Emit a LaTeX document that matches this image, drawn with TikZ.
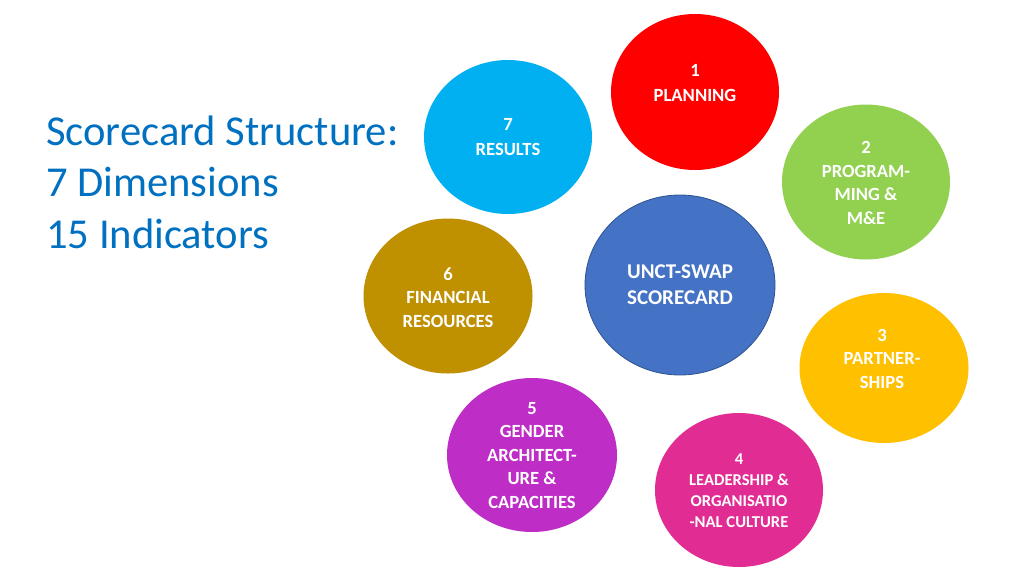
\documentclass[tikz,border=0pt]{standalone}
\usepackage{fontspec}
\setmainfont{Carlito}
\usetikzlibrary{shapes.geometric}
\definecolor{cRed}{HTML}{FF0000}
\definecolor{cCyan}{HTML}{00B0F0}
\definecolor{cGreen}{HTML}{92D050}
\definecolor{cBlue}{HTML}{4472C4}
\definecolor{cBlueEdge}{HTML}{2F528F}
\definecolor{cGold}{HTML}{BF9000}
\definecolor{cYellow}{HTML}{FFC000}
\definecolor{cPurple}{HTML}{BE2DC5}
\definecolor{cMagenta}{HTML}{E12C93}
\definecolor{cTitle}{HTML}{0070C0}
\begin{document}
\begin{tikzpicture}[x=1pt,y=-1pt,
  bubble/.style={ellipse, inner sep=0pt, outer sep=0pt, minimum width=168pt, minimum height=155pt},
  lbl/.style={text=white, align=center, inner sep=0pt, font=\fontsize{18.6}{23.5}\selectfont\bfseries},
  titletext/.style={text=cTitle, anchor=base west, inner sep=0pt, font=\fontsize{42.6}{51}\selectfont}
]
\useasboundingbox (0,0) rectangle (1024,576);
\fill[white] (0,0) rectangle (1024,576);

% title
\node[titletext] (t1) at (46,145) {Scorecard Structure:};
\node[titletext] (t2) at (46,196.5) {7 Dimensions};
\node[titletext] (t3) at (46,248) {15 Indicators};

% bubbles
\node[bubble, fill=cRed, minimum width=168pt, minimum height=156pt] (b1) at (695,92) {};
\node[bubble, fill=cCyan, minimum width=168pt, minimum height=154pt] (b7) at (508,137) {};
\node[bubble, fill=cGreen, minimum width=168pt, minimum height=155pt] (b2) at (866,182) {};
\node[bubble, fill=cBlue, draw=cBlueEdge, line width=0.8pt, minimum width=190pt, minimum height=180pt] (bc) at (680,285) {};
\node[bubble, fill=cGold, minimum width=169pt, minimum height=155pt] (b6) at (448,296) {};
\node[bubble, fill=cYellow, minimum width=169pt, minimum height=150pt] (b3) at (884,368) {};
\node[bubble, fill=cPurple, minimum width=170pt, minimum height=154pt] (b5) at (532,455) {};
\node[bubble, fill=cMagenta, minimum width=168pt, minimum height=154pt] (b4) at (739,490) {};

% labels
\node[lbl, font=\fontsize{18.6}{25}\selectfont\bfseries] (l1) at (695,83.5) {1\\PLANNING};
\node[lbl, font=\fontsize{18.6}{25}\selectfont\bfseries] (l7) at (508,137.5) {7\\RESULTS};
\node[lbl] (l2) at (866,183) {2\\PROGRAM-\\MING \&\\M\&E};
\node[lbl, font=\fontsize{21}{26}\selectfont\bfseries] (lc) at (680,285) {UNCT-SWAP\\SCORECARD};
\node[lbl] (l6) at (448,297.5) {6\\FINANCIAL\\RESOURCES};
\node[lbl] (l3) at (882,358.5) {3\\PARTNER-\\SHIPS};
\node[lbl] (l5) at (532,455.5) {5\\GENDER\\ARCHITECT-\\URE \&\\CAPACITIES};
\node[lbl, font=\fontsize{16.6}{21}\selectfont\bfseries] (l4) at (739,491) {4\\LEADERSHIP \&\\ORGANISATIO\\-NAL CULTURE};
\end{tikzpicture}
\end{document}
